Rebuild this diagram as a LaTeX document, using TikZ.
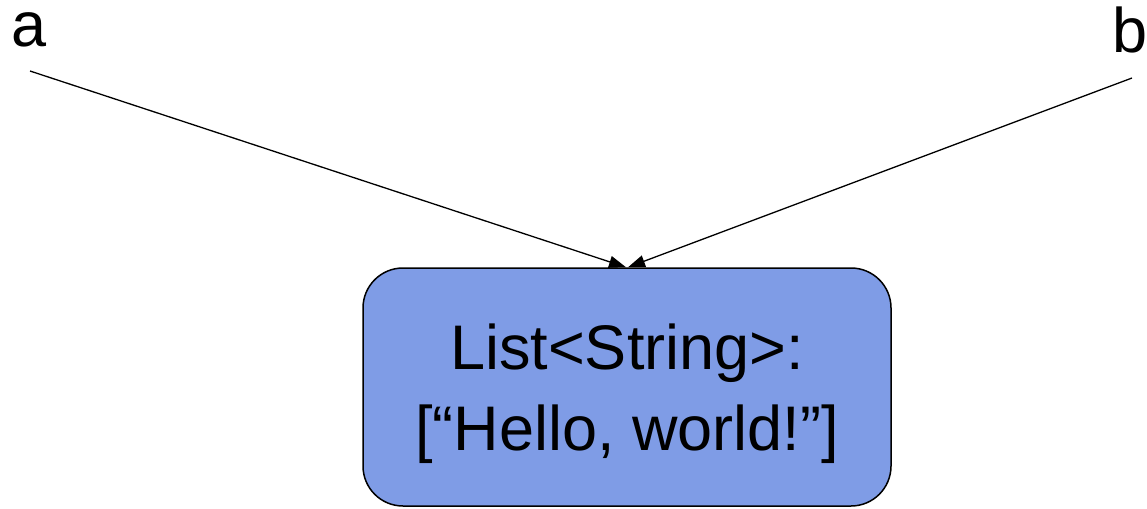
\documentclass[tikz,border=0pt]{standalone}
\usepackage{fontspec}
\setmainfont{Liberation Sans}
\usetikzlibrary{arrows.meta}
\definecolor{boxblue}{RGB}{127,156,230}
\tikzset{
  listbox/.style={draw=black, line width=1.5pt, fill=boxblue, rounded corners=40pt,
    minimum width=528pt, minimum height=238pt, inner sep=0pt},
  listtext/.style={align=center, inner sep=0pt, font=\fontsize{63}{81}\selectfont},
  varlabel/.style={inner sep=0pt, anchor=base, font=\fontsize{63}{76}\selectfont},
  ref/.style={line width=1.3pt, -{Triangle[length=17pt,width=12pt]}}
}
\begin{document}
\begin{tikzpicture}[x=1pt,y=-1pt]
\useasboundingbox (0,0) rectangle (1147,508);
\node[listbox] (box) at (627,387) {};
\node[listtext] (content) at (627,394) {List<String>:\\\relax[“Hello, world!”]};
\node[varlabel] (a) at (29,47) {a};
\node[varlabel] (b) at (1130,53) {b};
\coordinate (as) at (30,71);
\coordinate (bs) at (1132,78);
\draw[ref] (as) -- ([xshift=-1pt]box.north);
\draw[ref] (bs) -- ([xshift=1pt]box.north);
\end{tikzpicture}
\end{document}
